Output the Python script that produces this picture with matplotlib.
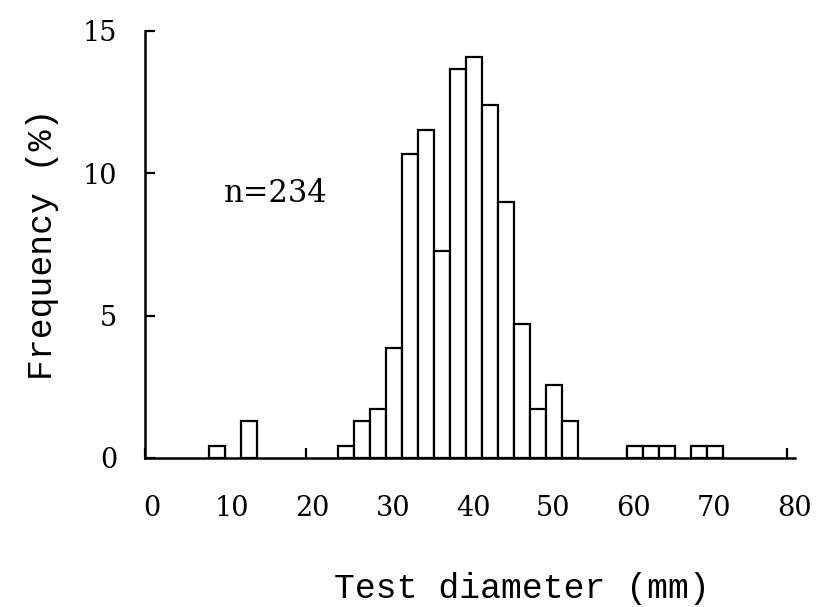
import matplotlib.pyplot as plt
import matplotlib.transforms as mtransforms

# Histogram of test diameters, counts per 2 mm class (n = 234)
bin_left = [8, 12, 24, 26, 28, 30, 32, 34, 36, 38, 40, 42, 44, 46, 48, 50, 52,
            60, 62, 64, 68, 70]
counts = [1, 3, 1, 3, 4, 9, 25, 27, 17, 32, 33, 29, 21, 11, 4, 6, 3,
          1, 1, 1, 1, 1]
n_total = 234
freq = [c / n_total * 100 for c in counts]

x_ticks = [0, 10, 20, 30, 40, 50, 60, 70, 80]
y_ticks = [0, 5, 10, 15]

fig = plt.figure(figsize=(8.22, 6.07), dpi=100)
ax = fig.add_axes([0.1764, 0.2455, 0.791, 0.7035])

ax.bar(bin_left, freq, width=2, align='edge', color='white',
       edgecolor='black', linewidth=1.6, zorder=3)

ax.set_xlim(0, 81)
ax.set_ylim(0, 15)
ax.set_xticks(x_ticks)
ax.set_yticks(y_ticks)

for side in ['top', 'right']:
    ax.spines[side].set_visible(False)
for side in ['left', 'bottom']:
    ax.spines[side].set_linewidth(1.8)

ax.tick_params(axis='both', direction='in', length=7, width=1.6,
               labelsize=19.5)
ax.tick_params(axis='x', pad=27)
ax.tick_params(axis='y', pad=20)
for lab in ax.get_xticklabels() + ax.get_yticklabels():
    lab.set_fontfamily('DejaVu Serif')

# the printed x labels sit a little right of their ticks
shift = mtransforms.ScaledTranslation(7 / 100, 0, fig.dpi_scale_trans)
for lab in ax.get_xticklabels():
    lab.set_transform(lab.get_transform() + shift)

ax.set_xlabel('Test diameter (mm)', fontfamily='Liberation Mono',
              fontsize=25)
ax.xaxis.set_label_coords(0.58, -0.268)
ax.set_ylabel('Frequency (%)', fontfamily='Liberation Mono',
              fontsize=25, labelpad=17)

ax.text(16.3, 9.3, 'n=234', fontfamily='DejaVu Serif', fontsize=22,
        ha='center', va='center')

fig.savefig('out.png', dpi=100)
